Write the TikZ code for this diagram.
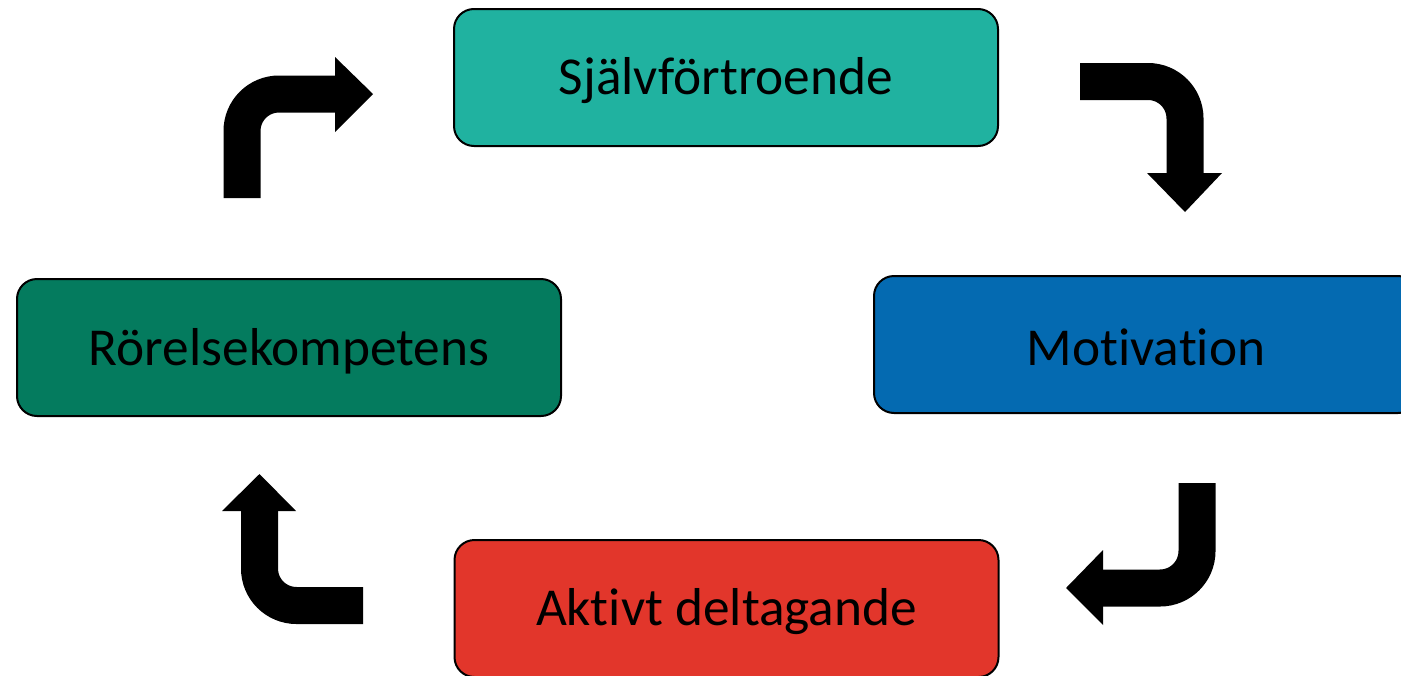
\documentclass[tikz,border=0pt]{standalone}
\usepackage{fontspec}
\setmainfont{Carlito}[Ligatures={NoCommon}]
\definecolor{cTeal}{HTML}{20B2A0}
\definecolor{cGreen}{HTML}{047B5E}
\definecolor{cBlue}{HTML}{046AB1}
\definecolor{cRed}{HTML}{E2362B}
\tikzset{
  box/.style={draw=black, line width=1.5pt, rounded corners=15pt, minimum width=408pt, minimum height=102.75pt, inner sep=0pt, font=\fontsize{40}{48}\selectfont, text=black},
  lbl/.style={inner sep=0pt, font=\fontsize{40}{48}\selectfont, text=black},
  stem/.style={draw=black, line width=27.75pt, rounded corners=27.75pt, line cap=butt},
  head/.style={fill=black, draw=none}
}
\begin{document}
\begin{tikzpicture}[x=0.75pt, y=-0.75pt]
\useasboundingbox (0,0) rectangle (1401,675);
\begin{scope}
\clip (0,0) rectangle (1401,675);
\node[box, fill=cTeal] (sjalv) at (726,77.5) {};
\node[box, fill=cBlue] (motiv) at (1146,344.5) {};
\node[box, fill=cRed] (aktiv) at (726.5,608.5) {};
\node[box, fill=cGreen] (rorel) at (289,347.5) {};
\node[lbl] (tsjalv) at ([yshift=-2.5pt]sjalv.center) {Självförtroende};
\node[lbl] (tmotiv) at ([yshift=-2.5pt]motiv.center) {Motivation};
\node[lbl] (taktiv) at ([yshift=-2.5pt]aktiv.center) {Aktivt deltagande};
\node[lbl] (trorel) at ([yshift=-2.5pt]rorel.center) {Rörelsekompetens};
\end{scope}
% top-left arrow
\coordinate (a1s) at (242,198);
\coordinate (a1c) at (242,94);
\coordinate (a1e) at (336,94);
\draw[stem] (a1s) -- (a1c) -- (a1e);
\fill[head] (335,57) -- (373,94) -- (335,132) -- cycle;
% top-right arrow
\coordinate (a2s) at (1080,81.5);
\coordinate (a2c) at (1185,81.5);
\coordinate (a2e) at (1185,174);
\draw[stem] (a2s) -- (a2c) -- (a2e);
\fill[head] (1147,173) -- (1222,173) -- (1185,212) -- cycle;
% bottom-right arrow
\coordinate (a3s) at (1197,483);
\coordinate (a3c) at (1197,588);
\coordinate (a3e) at (1102,588);
\draw[stem] (a3s) -- (a3c) -- (a3e);
\fill[head] (1103,550) -- (1103,625) -- (1066,588) -- cycle;
% bottom-left arrow
\coordinate (a4s) at (363,605.5);
\coordinate (a4c) at (259.5,605.5);
\coordinate (a4e) at (259.5,510);
\draw[stem] (a4s) -- (a4c) -- (a4e);
\fill[head] (222,511) -- (296,511) -- (259.5,474) -- cycle;
\end{tikzpicture}
\end{document}
